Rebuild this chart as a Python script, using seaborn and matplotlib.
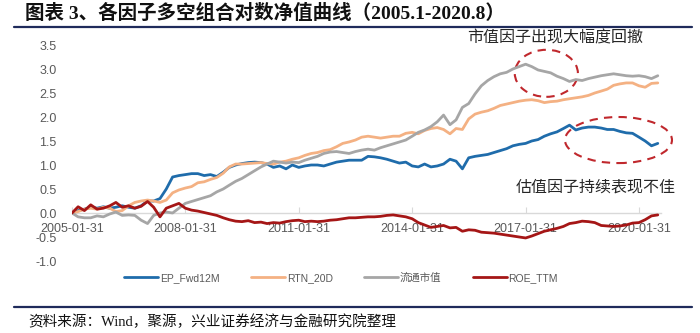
import numpy as np
import pandas as pd
import seaborn as sns
import matplotlib
matplotlib.use("Agg")
import matplotlib.pyplot as plt
import matplotlib.dates as mdates
from matplotlib.lines import Line2D
from matplotlib.patches import Ellipse
from matplotlib.ticker import FormatStrFormatter

# ---- data: bimonthly log NAV of long-short portfolios, 2005-01 .. 2020-07 ----
dates = pd.date_range("2005-01-31", periods=94, freq="2ME")

ep_fwd12m = [
    0.00, 0.05, 0.08, 0.12, 0.10, 0.13, 0.10, 0.12, 0.15, 0.12,
    0.10, 0.15, 0.25, 0.25, 0.30, 0.50, 0.75, 0.78, 0.80, 0.82,
    0.82, 0.78, 0.80, 0.76, 0.85, 0.95, 1.00, 1.03, 1.05, 1.06,
    1.05, 1.02, 0.95, 0.98, 0.92, 1.00, 0.95, 0.98, 1.00, 1.00,
    0.98, 1.02, 1.06, 1.08, 1.10, 1.10, 1.10, 1.18, 1.17, 1.15,
    1.12, 1.08, 1.04, 1.06, 0.98, 0.96, 1.02, 0.96, 0.98, 1.02,
    1.12, 1.08, 0.92, 1.15, 1.18, 1.20, 1.22, 1.26, 1.30, 1.34,
    1.40, 1.43, 1.45, 1.50, 1.53, 1.60, 1.65, 1.69, 1.76, 1.83,
    1.73, 1.77, 1.79, 1.79, 1.77, 1.74, 1.74, 1.70, 1.67, 1.66,
    1.58, 1.50, 1.40, 1.45,
]

rtn_20d = [
    0.00, 0.03, 0.08, 0.10, 0.08, 0.12, 0.10, 0.03, 0.05, 0.15,
    0.22, 0.25, 0.27, 0.25, 0.22, 0.27, 0.42, 0.48, 0.52, 0.55,
    0.63, 0.65, 0.70, 0.74, 0.83, 0.96, 1.02, 1.02, 1.03, 1.04,
    1.05, 1.03, 1.02, 1.06, 1.08, 1.12, 1.15, 1.20, 1.24, 1.26,
    1.30, 1.32, 1.38, 1.45, 1.48, 1.52, 1.58, 1.60, 1.58, 1.56,
    1.58, 1.60, 1.60, 1.66, 1.68, 1.65, 1.72, 1.76, 1.78, 1.74,
    1.65, 1.76, 1.74, 1.96, 2.06, 2.10, 2.13, 2.18, 2.24, 2.27,
    2.30, 2.33, 2.35, 2.36, 2.34, 2.30, 2.32, 2.33, 2.36, 2.38,
    2.40, 2.42, 2.45, 2.50, 2.54, 2.58, 2.66, 2.69, 2.71, 2.71,
    2.65, 2.62, 2.70, 2.71,
]

float_mktcap = [
    0.00, -0.08, -0.10, -0.10, -0.06, -0.08, -0.02, 0.02, -0.05, -0.04,
    -0.05, -0.15, -0.22, -0.05, 0.00, 0.02, 0.00, 0.10, 0.20, 0.24,
    0.28, 0.32, 0.36, 0.44, 0.50, 0.58, 0.66, 0.72, 0.80, 0.88,
    0.96, 1.02, 1.08, 1.06, 1.04, 1.06, 1.05, 1.10, 1.14, 1.18,
    1.24, 1.27, 1.28, 1.26, 1.24, 1.28, 1.31, 1.33, 1.31, 1.36,
    1.40, 1.44, 1.48, 1.52, 1.60, 1.68, 1.73, 1.80, 1.90, 2.04,
    1.84, 1.94, 2.20, 2.28, 2.48, 2.65, 2.76, 2.84, 2.90, 2.93,
    3.00, 3.05, 3.10, 3.05, 2.98, 2.95, 2.92, 2.85, 2.80, 2.74,
    2.78, 2.76, 2.80, 2.83, 2.86, 2.88, 2.90, 2.88, 2.86, 2.85,
    2.86, 2.84, 2.80, 2.86,
]

roe_ttm = [
    0.00, 0.13, 0.05, 0.17, 0.08, 0.10, 0.15, 0.22, 0.12, 0.15,
    0.10, 0.14, 0.24, 0.12, -0.08, 0.10, 0.15, 0.20, 0.10, 0.06,
    0.04, 0.01, -0.02, -0.05, -0.10, -0.14, -0.17, -0.18, -0.16, -0.20,
    -0.19, -0.22, -0.20, -0.21, -0.18, -0.16, -0.15, -0.18, -0.17, -0.18,
    -0.17, -0.15, -0.14, -0.12, -0.10, -0.10, -0.09, -0.08, -0.08, -0.07,
    -0.05, -0.04, -0.06, -0.08, -0.12, -0.20, -0.25, -0.30, -0.28, -0.26,
    -0.31, -0.30, -0.38, -0.35, -0.36, -0.40, -0.41, -0.42, -0.44, -0.46,
    -0.48, -0.50, -0.52, -0.48, -0.43, -0.38, -0.35, -0.32, -0.28, -0.22,
    -0.20, -0.17, -0.18, -0.20, -0.26, -0.27, -0.28, -0.27, -0.25, -0.21,
    -0.20, -0.14, -0.06, -0.04,
]

series_names = ["EP_Fwd12M", "RTN_20D", "流通市值", "ROE_TTM"]
series_values = [ep_fwd12m, rtn_20d, float_mktcap, roe_ttm]
palette = {
    "EP_Fwd12M": "#1F6CAB",
    "RTN_20D": "#F4B183",
    "流通市值": "#A6A6A6",
    "ROE_TTM": "#A51616",
}

xtick_labels = ["2005-01-31", "2008-01-31", "2011-01-31",
                "2014-01-31", "2017-01-31", "2020-01-31"]
yticks = [-1.0, -0.5, 0.0, 0.5, 1.0, 1.5, 2.0, 2.5, 3.0, 3.5]

title_text = "图表 3、各因子多空组合对数净值曲线（2005.1-2020.8）"
source_text = "资料来源：Wind，聚源，兴业证券经济与金融研究院整理"
note_size = "市值因子出现大幅度回撤"
note_value = "估值因子持续表现不佳"

df = pd.concat(
    [pd.DataFrame({"date": dates, "value": v, "factor": n})
     for n, v in zip(series_names, series_values)],
    ignore_index=True,
)

# ---- styling ----
sns.set_theme(style="white")
plt.rcParams["font.family"] = ["Liberation Sans", "Noto Sans CJK SC", "DejaVu Sans"]
plt.rcParams["axes.unicode_minus"] = False

fig = plt.figure(figsize=(7.0, 3.33), dpi=100)
W, H = 700, 333
ax = fig.add_axes([72 / W, 1 - 261 / H, (661 - 72) / W, (261 - 45) / H])

sns.lineplot(data=df, x="date", y="value", hue="factor", hue_order=series_names,
             palette=palette, linewidth=2.0, ax=ax, legend=True)

ax.set_xlim(pd.Timestamp("2005-01-31"), pd.Timestamp("2020-08-31"))
ax.set_ylim(-1.0, 3.5)
ax.set_xlabel("")
ax.set_ylabel("")

ax.set_yticks(yticks)
ax.yaxis.set_major_formatter(FormatStrFormatter("%.1f"))
ax.set_xticks(pd.to_datetime(xtick_labels))
ax.set_xticklabels(xtick_labels)

for s in ["top", "right", "left"]:
    ax.spines[s].set_visible(False)
ax.spines["bottom"].set_position(("data", 0))
ax.spines["bottom"].set_color("#D9D9D9")
ax.spines["bottom"].set_linewidth(1.0)
ax.spines["bottom"].set_zorder(0.5)

ax.tick_params(axis="y", length=0, pad=11, labelsize=9, labelcolor="#595959")
ax.tick_params(axis="x", direction="in", length=4, width=0.8, color="#D9D9D9",
               pad=7, labelsize=9, labelcolor="#595959", bottom=True)
for lbl in ax.get_xticklabels() + ax.get_yticklabels():
    lbl.set_family(["Liberation Sans"])

# legend below the plot
handles, labels = ax.get_legend_handles_labels()
ax.legend_.remove()
leg = fig.legend(handles, labels, loc="center", bbox_to_anchor=(341 / W, 1 - 278 / H),
                 ncol=4, frameon=False, fontsize=7.5, handlelength=3.3,
                 handletextpad=0.15, columnspacing=3.0)
for t in leg.get_texts():
    t.set_color("#595959")
for h in leg.get_lines():
    h.set_linewidth(2.0)

# dashed highlight ellipses and notes
def yr(t):
    year = int(t)
    return pd.Timestamp(f"{year}-01-01") + pd.Timedelta(days=(t - year) * 365.25)

red = "#C0282D"
e1 = Ellipse((mdates.date2num(yr(2017.63)), 2.91), width=1.67 * 365.25, height=0.98,
             fill=False, edgecolor=red, linestyle=(0, (4, 3)), linewidth=1.5, clip_on=False)
e2 = Ellipse((mdates.date2num(yr(2019.54)), 1.52), width=2.83 * 365.25, height=0.96,
             fill=False, edgecolor=red, linestyle=(0, (4, 3)), linewidth=1.5, clip_on=False)
ax.add_patch(e1)
ax.add_patch(e2)

fig.text(555 / W, 1 - 38 / H, note_size, ha="center", va="center", fontsize=11.5,
         color="#262626", family=["Noto Sans CJK SC"])
fig.text(596 / W, 1 - 187 / H, note_value, ha="center", va="center", fontsize=11.5,
         color="#262626", family=["Noto Sans CJK SC"])

# header and footer
fig.text(25 / W, 1 - 13 / H, title_text, ha="left", va="center", fontsize=14,
         fontweight="bold", color="#111111",
         family=["Liberation Serif", "Noto Sans CJK SC"])
navy = "#1F2B5B"
fig.add_artist(Line2D([14 / W, 692 / W], [1 - 27 / H, 1 - 27 / H],
                      transform=fig.transFigure, color=navy, linewidth=1.6))
fig.add_artist(Line2D([14 / W, 692 / W], [1 - 307 / H, 1 - 307 / H],
                      transform=fig.transFigure, color=navy, linewidth=1.6))
fig.text(28 / W, 1 - 322 / H, source_text, ha="left", va="center", fontsize=10.5,
         color="#111111", family=["Liberation Serif", "Noto Sans CJK SC"])

fig.savefig("out.png", dpi=100)
